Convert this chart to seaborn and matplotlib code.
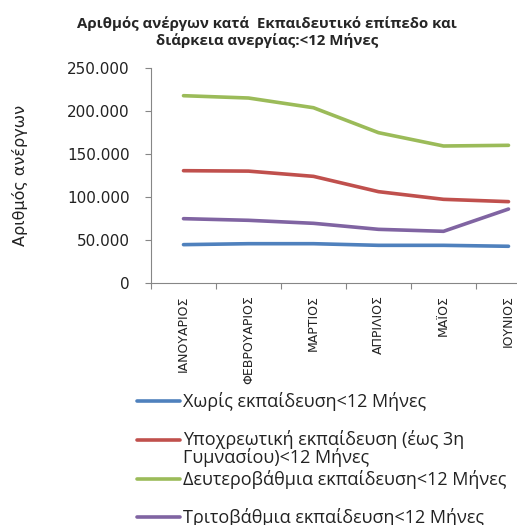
import numpy as np
import pandas as pd
import matplotlib
matplotlib.use('Agg')
import matplotlib.pyplot as plt
from matplotlib.ticker import FuncFormatter, FixedLocator
from matplotlib.legend_handler import HandlerLine2D
import seaborn as sns

# Data
months = ['ΙΑΝΟΥΑΡΙΟΣ', 'ΦΕΒΡΟΥΑΡΙΟΣ', 'ΜΑΡΤΙΟΣ', 'ΑΠΡΙΛΙΟΣ', 'ΜΑΪΟΣ', 'ΙΟΥΝΙΟΣ']
series_names = [
    'Χωρίς εκπαίδευση<12 Μήνες',
    'Υποχρεωτική εκπαίδευση (έως 3η\nΓυμνασίου)<12 Μήνες',
    'Δευτεροβάθμια εκπαίδευση<12 Μήνες',
    'Τριτοβάθμια εκπαίδευση<12 Μήνες',
]
no_education = [44600, 45700, 45700, 43800, 43800, 42700]
compulsory = [130600, 130100, 124000, 106200, 97300, 94600]
secondary = [217800, 215100, 203800, 174800, 159300, 160100]
tertiary = [74800, 72900, 69400, 62400, 60100, 86000]
colors = ['#4F81BD', '#C0504D', '#9BBB59', '#8064A2']

rows = []
for name, vals in zip(series_names, [no_education, compulsory, secondary, tertiary]):
    for m, v in zip(months, vals):
        rows.append({'month': m, 'value': v, 'series': name})
df = pd.DataFrame(rows)

sns.set_style('white')

fig = plt.figure(figsize=(5.17, 5.25), dpi=100)
ax = fig.add_axes([151 / 517, 242 / 525, 390 / 517, 215 / 525])

sns.lineplot(data=df, x='month', y='value', hue='series', palette=colors,
             linewidth=2.6, legend=False, sort=False, ax=ax)

ax.set_xlim(-0.5, 5.5)
ax.set_ylim(0, 250000)
ax.set_yticks(np.arange(0, 250001, 50000))
ax.yaxis.set_major_formatter(FuncFormatter(lambda v, p: f'{int(v):,}'.replace(',', '.')))
ax.set_xticks(range(len(months)))
ax.set_xticklabels(months, rotation=90, va='top', ha='center',
                   family=['Liberation Sans Narrow', 'DejaVu Sans'], fontsize=9)
ax.xaxis.set_minor_locator(FixedLocator(np.arange(-0.5, 6, 1)))
ax.tick_params(axis='x', which='major', length=0, pad=9, labelcolor='#222222')
ax.tick_params(axis='x', which='minor', length=4.5, width=0.8, color='#868686', direction='out', bottom=True)
ax.tick_params(axis='y', length=4.5, width=0.8, color='#868686', direction='out', left=True,
               pad=11, labelsize=11, labelcolor='#222222')
for lab in ax.get_yticklabels():
    lab.set_family('DejaVu Sans')

for s in ['top', 'right']:
    ax.spines[s].set_visible(False)
for s in ['left', 'bottom']:
    ax.spines[s].set_color('#868686')
    ax.spines[s].set_linewidth(0.8)

ax.set_xlabel('')
ax.set_ylabel('Αριθμός ανέργων', family=['Liberation Sans Narrow', 'DejaVu Sans'], fontsize=11.5,
              color='#222222')
ax.yaxis.set_label_coords(-131 / 390, 0.5)
ax.yaxis.label.set_va('center')

fig.text(267 / 517, 1 - 16 / 525,
         'Αριθμός ανέργων κατά  Εκπαιδευτικό επίπεδο και\nδιάρκεια ανεργίας:<12 Μήνες',
         ha='center', va='top', fontsize=10.8, fontweight='bold', family='Open Sans',
         linespacing=1.2)


# keep the legend key on the first text line, like the original
class FirstLineHandler(HandlerLine2D):
    def create_artists(self, legend, orig_handle, xdescent, ydescent, width, height, fontsize, trans):
        artists = super().create_artists(legend, orig_handle, xdescent, ydescent, width, height, fontsize, trans)
        for a in artists:
            a.set_ydata(np.asarray(a.get_ydata()) + 0.5 * fontsize)
        return artists


handles = ax.get_lines()[:4]
labels = [n if '\n' in n else n + '\n ' for n in series_names]
leg = fig.legend(handles, labels, loc='upper left', bbox_to_anchor=(137 / 517, 1 - 392 / 525),
                 frameon=False, prop={'family': 'Open Sans', 'size': 13},
                 handlelength=2.4, handletextpad=0.17, labelspacing=0.17, borderpad=0,
                 borderaxespad=0, handler_map={matplotlib.lines.Line2D: FirstLineHandler()})
for t in leg.get_texts():
    t.set_color('#222222')
    t.set_linespacing(0.88)

fig.savefig('out.png', dpi=100)
